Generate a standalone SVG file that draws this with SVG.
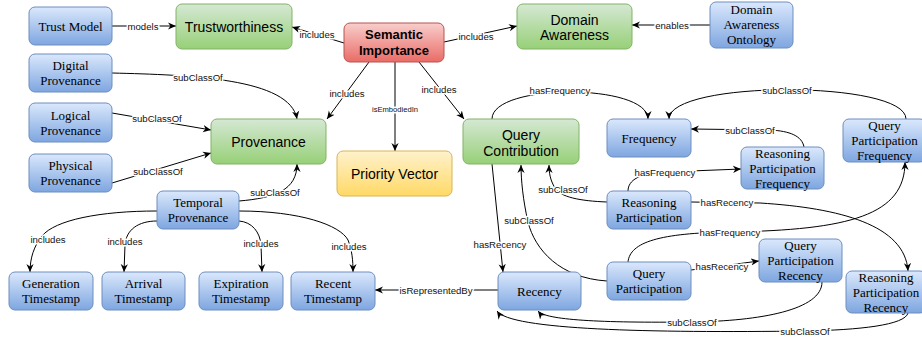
<svg xmlns="http://www.w3.org/2000/svg" width="922" height="339" viewBox="0 0 922 339">
<defs>
<linearGradient id="gBlue" x1="0" y1="0" x2="0" y2="1"><stop offset="0" stop-color="#dae8fc"/><stop offset="1" stop-color="#7ea6e0"/></linearGradient>
<linearGradient id="gGreen" x1="0" y1="0" x2="0" y2="1"><stop offset="0" stop-color="#d5e8d4"/><stop offset="1" stop-color="#97d077"/></linearGradient>
<linearGradient id="gRed" x1="0" y1="0" x2="0" y2="1"><stop offset="0" stop-color="#f8cecc"/><stop offset="1" stop-color="#ea6b66"/></linearGradient>
<linearGradient id="gYellow" x1="0" y1="0" x2="0" y2="1"><stop offset="0" stop-color="#fff2cc"/><stop offset="1" stop-color="#ffd966"/></linearGradient>
<marker id="arr" viewBox="0 0 10 10" refX="10" refY="5" markerWidth="8" markerHeight="8" orient="auto" markerUnits="userSpaceOnUse"><path d="M0,0.5 L10,5 L0,9.5 L3,5 z" fill="#000"/></marker>
</defs>
<style>
.blue rect{fill:url(#gBlue);stroke:#6c8ebf;stroke-width:1}
.green rect{fill:url(#gGreen);stroke:#82b366;stroke-width:1}
.red rect{fill:url(#gRed);stroke:#b85450;stroke-width:1}
.yellow rect{fill:url(#gYellow);stroke:#d6b656;stroke-width:1}
.blue text{font-family:"Liberation Serif","Times New Roman",serif;font-size:13px;fill:#000;text-anchor:middle}
.green text,.yellow text{font-family:"Liberation Sans",Arial,sans-serif;font-size:14px;fill:#000;text-anchor:middle}
.red text{font-family:"Liberation Sans",Arial,sans-serif;font-size:13px;font-weight:bold;fill:#000;text-anchor:middle}
#edges path{fill:none;stroke:#000;stroke-width:1;marker-end:url(#arr)}
#edges text{font-family:"Liberation Sans",Arial,sans-serif;font-size:9.6px;fill:#111;text-anchor:middle;stroke:#fff;stroke-width:3px;paint-order:stroke;stroke-linejoin:round}
#edges text.small{font-size:7.6px}
</style>
<rect width="922" height="339" fill="#fff"/>
<g id="edges">
<path d="M112,26 L176,26"/><text x="143" y="29.5">models</text>
<path d="M344,43 L292,27"/><text x="317" y="37.5">includes</text>
<path d="M444,42 L517,26"/><text x="476" y="39.5">includes</text>
<path d="M710,25 L632,25"/><text x="672" y="28.5">enables</text>
<path d="M369,62 L327,119"/><text x="347" y="96.5">includes</text>
<path d="M395,62 L395,151"/><text class="small" x="395" y="112">isEmbodiedIn</text>
<path d="M419,62 L464,119"/><text x="439" y="92.5">includes</text>
<path d="M112,73 C190,75 290,78 297,119"/><text x="198" y="80.5">subClassOf</text>
<path d="M112,113 L211,130"/><text x="157" y="122">subClassOf</text>
<path d="M112,183 L211,153"/><text x="158" y="174.5">subClassOf</text>
<path d="M239,201 C275,198 297,190 297,164"/><text x="275" y="195.5">subClassOf</text>
<path d="M157,211 C100,211 55,220 42,236 C34,246 30,258 30,272"/><text x="48" y="242.5">includes</text>
<path d="M157,221 C138,221 126,230 125,245 L124,272"/><text x="125" y="244.5">includes</text>
<path d="M239,221 C252,222 260,232 261,245 L262,272"/><text x="261" y="247">includes</text>
<path d="M239,211 C300,211 340,225 348,240 C352,250 353,260 353,272"/><text x="349" y="249.5">includes</text>
<path d="M498,290 L375,290"/><text x="436" y="293.5">isRepresentedBy</text>
<path d="M492,164 L503,272"/><text x="500" y="248">hasRecency</text>
<path d="M607,281 C560,278 535,250 528,222 C523,200 521,180 521,165"/><text x="529" y="223.5">subClassOf</text>
<path d="M607,202 C580,201 560,197 555,188 C550,180 549,172 549,165"/><text x="563" y="192.5">subClassOf</text>
<path d="M492,119 C492,83 648,83 648,119"/><text x="560" y="94">hasFrequency</text>
<path d="M906,119 C906,80 669,80 669,119"/><text x="787" y="93.5">subClassOf</text>
<path d="M804,147 C802,136 790,131 770,130 L691,129"/><text x="750" y="133.5">subClassOf</text>
<path d="M628,191 C628,180 640,173 665,172 L741,169"/><text x="665" y="175.5">hasFrequency</text>
<path d="M691,202 L760,203 C840,208 905,225 908,271"/><text x="727" y="205.5">hasRecency</text>
<path d="M628,262 C630,242 660,233 730,232 C850,230 905,215 905,162"/><text x="730" y="235.5">hasFrequency</text>
<path d="M691,270 L759,261"/><text x="722" y="270">hasRecency</text>
<path d="M822,282 C822,310 760,321 692,322 C600,323 545,320 538,311"/><text x="692" y="325.5">subClassOf</text>
<path d="M908,313 C905,325 860,330 805,331 C650,333 510,330 497,311"/><text x="805" y="334.5">subClassOf</text>
</g>
<g id="trust-model" class="blue"><rect x="29" y="7" width="83" height="38" rx="6"/><text x="70.5" y="30.5">Trust Model</text></g>
<g id="digital-provenance" class="blue"><rect x="29" y="54" width="83" height="38" rx="6"/><text x="70.5" y="70">Digital</text><text x="70.5" y="85">Provenance</text></g>
<g id="logical-provenance" class="blue"><rect x="29" y="103" width="83" height="39" rx="6"/><text x="70.5" y="119.5">Logical</text><text x="70.5" y="134.5">Provenance</text></g>
<g id="physical-provenance" class="blue"><rect x="29" y="154" width="83" height="38" rx="6"/><text x="70.5" y="170">Physical</text><text x="70.5" y="185">Provenance</text></g>
<g id="temporal-provenance" class="blue"><rect x="157" y="191" width="82" height="38" rx="6"/><text x="198" y="207">Temporal</text><text x="198" y="222">Provenance</text></g>
<g id="generation-timestamp" class="blue"><rect x="9" y="272" width="84" height="38" rx="6"/><text x="51" y="288">Generation</text><text x="51" y="303">Timestamp</text></g>
<g id="arrival-timestamp" class="blue"><rect x="102" y="272" width="83" height="38" rx="6"/><text x="143.5" y="288">Arrival</text><text x="143.5" y="303">Timestamp</text></g>
<g id="expiration-timestamp" class="blue"><rect x="199" y="272" width="84" height="38" rx="6"/><text x="241" y="288">Expiration</text><text x="241" y="303">Timestamp</text></g>
<g id="recent-timestamp" class="blue"><rect x="291" y="272" width="84" height="38" rx="6"/><text x="333" y="288">Recent</text><text x="333" y="303">Timestamp</text></g>
<g id="domain-awareness-ontology" class="blue"><rect x="710" y="2" width="83" height="46" rx="6"/><text x="751.5" y="14">Domain</text><text x="751.5" y="29">Awareness</text><text x="751.5" y="44">Ontology</text></g>
<g id="frequency" class="blue"><rect x="607" y="119" width="84" height="38" rx="6"/><text x="649" y="142.5">Frequency</text></g>
<g id="reasoning-participation-frequency" class="blue"><rect x="741" y="147" width="83" height="42" rx="6"/><text x="782.5" y="157.5">Reasoning</text><text x="782.5" y="172.5">Participation</text><text x="782.5" y="187.5">Frequency</text></g>
<g id="query-participation-frequency" class="blue"><rect x="843" y="119" width="83" height="43" rx="6"/><text x="884.5" y="130">Query</text><text x="884.5" y="145">Participation</text><text x="884.5" y="160">Frequency</text></g>
<g id="reasoning-participation" class="blue"><rect x="607" y="191" width="84" height="38" rx="6"/><text x="649" y="207">Reasoning</text><text x="649" y="222">Participation</text></g>
<g id="query-participation" class="blue"><rect x="607" y="262" width="84" height="38" rx="6"/><text x="649" y="278">Query</text><text x="649" y="293">Participation</text></g>
<g id="recency" class="blue"><rect x="498" y="272" width="83" height="38" rx="6"/><text x="539.5" y="295.5">Recency</text></g>
<g id="query-participation-recency" class="blue"><rect x="759" y="239" width="83" height="43" rx="6"/><text x="800.5" y="250">Query</text><text x="800.5" y="265">Participation</text><text x="800.5" y="280">Recency</text></g>
<g id="reasoning-participation-recency" class="blue"><rect x="846" y="271" width="80" height="42" rx="6"/><text x="886" y="281.5">Reasoning</text><text x="886" y="296.5">Participation</text><text x="886" y="311.5">Recency</text></g>
<g id="trustworthiness" class="green"><rect x="176" y="4" width="116" height="45" rx="6"/><text x="234" y="31.5">Trustworthiness</text></g>
<g id="domain-awareness" class="green"><rect x="517" y="4" width="115" height="45" rx="6"/><text x="574.5" y="24.5">Domain</text><text x="574.5" y="40">Awareness</text></g>
<g id="provenance" class="green"><rect x="211" y="119" width="115" height="45" rx="6"/><text x="268.5" y="146.5">Provenance</text></g>
<g id="query-contribution" class="green"><rect x="463" y="119" width="116" height="45" rx="6"/><text x="521" y="140">Query</text><text x="521" y="155.5">Contribution</text></g>
<g id="semantic-importance" class="red"><rect x="344" y="23" width="100" height="39" rx="6"/><text x="394" y="39">Semantic</text><text x="394" y="55">Importance</text></g>
<g id="priority-vector" class="yellow"><rect x="337" y="151" width="115" height="45" rx="6"/><text x="394.5" y="178.5">Priority Vector</text></g>
</svg>
